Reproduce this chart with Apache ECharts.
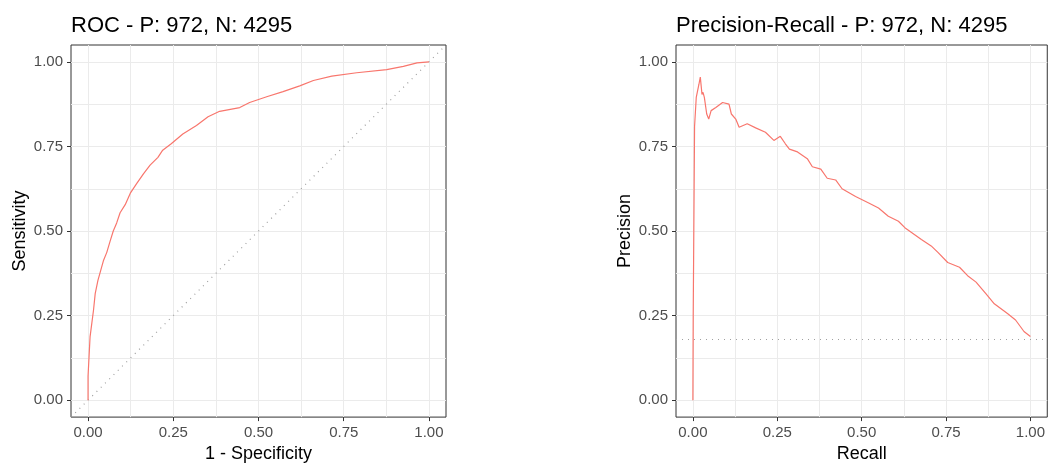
<!DOCTYPE html>
<html>
<head>
<meta charset="utf-8">
<script src="https://cdn.jsdelivr.net/npm/echarts@6/dist/echarts.min.js"></script>
<style>
    html, body { margin: 0; padding: 0; background: #fff; }
    #main { width: 1048px; height: 468px; }
</style>
</head>
<body>
<div id="main"></div>
<script>
// 数据：ROC 曲线 (1 - Specificity, Sensitivity)
var rocFpr = [0, 0, 0.003, 0.006, 0.011, 0.016, 0.021, 0.029, 0.037, 0.045,
    0.055, 0.065, 0.074, 0.084, 0.094, 0.109, 0.124, 0.143, 0.163, 0.182,
    0.205, 0.219, 0.244, 0.278, 0.318, 0.352, 0.386, 0.445, 0.474, 0.524,
    0.572, 0.621, 0.661, 0.715, 0.788, 0.876, 0.925, 0.965, 1.0];
var rocTpr = [0, 0.071, 0.130, 0.188, 0.227, 0.266, 0.315, 0.354, 0.383, 0.412,
    0.437, 0.471, 0.500, 0.524, 0.554, 0.578, 0.612, 0.641, 0.670, 0.695,
    0.718, 0.739, 0.758, 0.787, 0.812, 0.838, 0.854, 0.865, 0.880, 0.897,
    0.912, 0.929, 0.945, 0.958, 0.968, 0.977, 0.987, 0.997, 1.0];

// 数据：Precision-Recall 曲线
var prRecall = [0, 0.001, 0.004, 0.005, 0.010, 0.018, 0.022, 0.027, 0.030, 0.034,
    0.041, 0.047, 0.054, 0.068, 0.088, 0.107, 0.114, 0.127, 0.137, 0.161,
    0.186, 0.215, 0.240, 0.259, 0.274, 0.286, 0.310, 0.339, 0.354, 0.379,
    0.398, 0.423, 0.442, 0.482, 0.521, 0.550, 0.579, 0.609, 0.628, 0.677,
    0.706, 0.726, 0.755, 0.790, 0.814, 0.839, 0.868, 0.893, 0.932, 0.956,
    0.981, 1.0];
var prPrecision = [0, 0.250, 0.250, 0.810, 0.895, 0.934, 0.955, 0.904, 0.910, 0.895,
    0.846, 0.831, 0.856, 0.865, 0.880, 0.875, 0.846, 0.831, 0.807, 0.817,
    0.805, 0.792, 0.768, 0.780, 0.758, 0.742, 0.734, 0.714, 0.690, 0.683,
    0.656, 0.651, 0.625, 0.602, 0.583, 0.568, 0.544, 0.529, 0.510, 0.475,
    0.456, 0.437, 0.407, 0.393, 0.368, 0.349, 0.315, 0.285, 0.256, 0.237,
    0.203, 0.188];

var nPos = 972;
var nNeg = 4295;
var tickValues = [0, 0.25, 0.5, 0.75, 1];
var gridValues = [0, 0.125, 0.25, 0.375, 0.5, 0.625, 0.75, 0.875, 1];
var axisMin = -0.05;
var axisMax = 1.05;

(function () {
    var font = 'Liberation Sans, Arial, sans-serif';
    var lineColor = '#F8766D';

    // 把两个数组拼成 [x, y]
    var zip = function (xs, ys) {
        return xs.map(function (x, i) { return [x, ys[i]]; });
    };

    // 主轴：刻度 + 文字 + 轴名
    var makeAxis = function (gridIndex, name, isY) {
        return {
            type: 'value',
            gridIndex: gridIndex,
            position: isY ? 'left' : 'bottom',
            min: axisMin,
            max: axisMax,
            name: name,
            nameLocation: 'middle',
            nameGap: isY ? 42 : 27,
            nameTextStyle: { color: '#000', fontSize: 18, fontFamily: font },
            axisLine: { show: false, onZero: false },
            axisTick: {
                show: true,
                customValues: tickValues,
                length: 4,
                lineStyle: { color: '#333' }
            },
            axisLabel: {
                customValues: tickValues,
                color: '#4d4d4d',
                fontSize: 15,
                fontFamily: font,
                margin: 8,
                formatter: function (v) { return v.toFixed(2); }
            },
            splitLine: { show: false }
        };
    };

    // 辅助轴：只画网格线（主 + 次）
    var makeGridAxis = function (gridIndex, isY) {
        return {
            type: 'value',
            gridIndex: gridIndex,
            position: isY ? 'left' : 'bottom',
            min: axisMin,
            max: axisMax,
            axisLine: { show: false, onZero: false },
            axisTick: { show: false, length: 0, customValues: gridValues, lineStyle: { color: 'rgba(0,0,0,0)' } },
            axisLabel: { show: false, customValues: gridValues },
            splitLine: { show: true, lineStyle: { color: '#ebebeb', width: 1 } }
        };
    };

    var title = function (text, left) {
        return {
            text: text,
            left: left,
            top: 15,
            padding: 0,
            textStyle: { color: '#000', fontSize: 22, fontWeight: 'normal', fontFamily: font }
        };
    };

    var prevalence = nPos / (nPos + nNeg);
    var dotted = { color: '#a0a0a0', type: [1, 5], width: 1.2 };

    var option = {
        backgroundColor: '#fff',
        animation: false,
        title: [
            title('ROC - P: ' + nPos + ', N: ' + nNeg, 71),
            title('Precision-Recall - P: ' + nPos + ', N: ' + nNeg, 676)
        ],
        grid: [
            { left: 71, top: 45, width: 375, height: 376, show: true, borderColor: '#333', borderWidth: 1 },
            { left: 676, top: 45, width: 374, height: 376, show: true, borderColor: '#333', borderWidth: 1 }
        ],
        xAxis: [
            makeAxis(0, '1 - Specificity', false), makeAxis(1, 'Recall', false),
            makeGridAxis(0, false), makeGridAxis(1, false)
        ],
        yAxis: [
            makeAxis(0, 'Sensitivity', true), makeAxis(1, 'Precision', true),
            makeGridAxis(0, true), makeGridAxis(1, true)
        ],
        series: [
            {
                // 对角参考线
                type: 'line',
                xAxisIndex: 0,
                yAxisIndex: 0,
                data: [[axisMin, axisMin], [axisMax, axisMax]],
                symbol: 'none',
                lineStyle: dotted,
                z: 1
            },
            {
                type: 'line',
                xAxisIndex: 0,
                yAxisIndex: 0,
                data: zip(rocFpr, rocTpr),
                symbol: 'none',
                lineStyle: { color: lineColor, width: 1.2 },
                z: 2
            },
            {
                type: 'line',
                xAxisIndex: 1,
                yAxisIndex: 1,
                data: zip(prRecall, prPrecision),
                symbol: 'none',
                lineStyle: { color: lineColor, width: 1.2 },
                markLine: {
                    silent: true,
                    symbol: 'none',
                    label: { show: false },
                    lineStyle: dotted,
                    data: [{ yAxis: prevalence }]
                },
                z: 2
            }
        ]
    };

    var myechart = echarts.init(document.getElementById('main'));
    myechart.setOption(option);
})();
</script>
</body>
</html>
